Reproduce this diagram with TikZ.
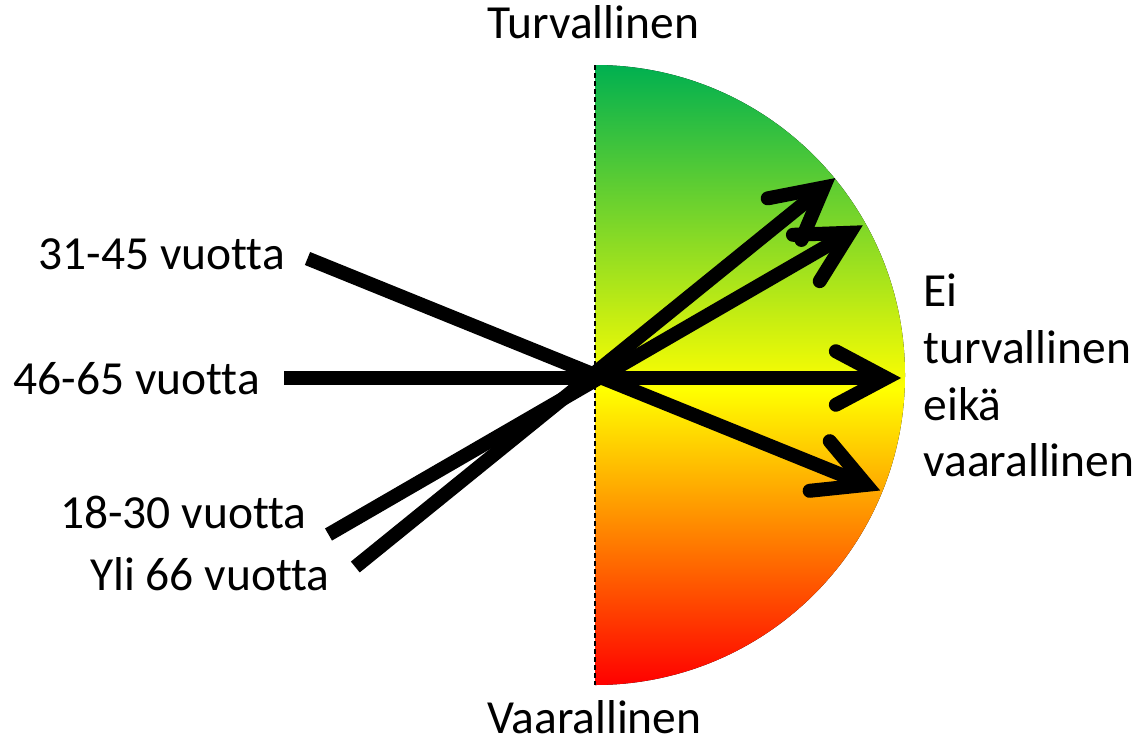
\documentclass[tikz,border=0pt]{standalone}
\usepackage{fontspec}
\setmainfont{Carlito}[Ligatures=NoCommon]
\usetikzlibrary{calc}
\definecolor{mygreen}{RGB}{0,176,80}
\definecolor{myyellow}{RGB}{255,255,0}
\definecolor{myred}{RGB}{255,0,0}
\pgfdeclareverticalshading{gyr}{100bp}{color(0bp)=(myred); color(25bp)=(myred); color(48.8bp)=(myyellow); color(75bp)=(mygreen); color(100bp)=(mygreen)}
\tikzset{
  lbl/.style={inner sep=0pt, anchor=base west, font=\fontsize{47.5}{56.7}\selectfont},
  shaft/.style={line width=14pt, line cap=butt},
  barbs/.style={line width=14pt, line cap=round, line join=miter},
  axisline/.style={line width=1.3pt, dash pattern=on 5pt off 3pt},
}
\begin{document}
\begin{tikzpicture}[x=1pt,y=-1pt]
\useasboundingbox (0,0) rectangle (1137,744);
% half disc
\fill[shading=gyr] (595,65) arc[start angle=-90, end angle=90, radius=310] -- cycle;
\coordinate (top) at (595,65);
\coordinate (bot) at (595,685);
\draw[axisline] (top) -- (bot);
% labels
\node[lbl] (safe) at (487,38.3) {Turvallinen};
\node[lbl] (danger) at (487,733.3) {Vaarallinen};
\node[lbl] (a3145) at (38.3,269.3) {31-45 vuotta};
\node[lbl] (a4665) at (13.3,394) {46-65 vuotta};
\node[lbl] (a1830) at (60,528.3) {18-30 vuotta};
\node[lbl] (a66) at (90,590) {Yli 66 vuotta};
\node[lbl, align=left] (neutral) at (923.3,476.7) {Ei\\turvallinen\\eikä\\vaarallinen};
% arrows
\coordinate (s1) at (307.5,258.5); \coordinate (t1) at (880.7,490.7);
\coordinate (s2) at (284,378);     \coordinate (t2) at (901.7,378);
\coordinate (s3) at (328.5,534.5); \coordinate (t3) at (863.3,225);
\coordinate (s4) at (355.3,567);   \coordinate (t4) at (835.7,177.7);
\foreach \i in {1,2,3,4}{
  \path ($(t\i)!15.5pt!(s\i)$) coordinate (g\i);
  \path ($(g\i)!57pt!28:(s\i)$) coordinate (ba\i);
  \path ($(g\i)!57pt!-28:(s\i)$) coordinate (bb\i);
  \draw[shaft] (s\i) -- (g\i);
  \draw[barbs] (ba\i) -- (g\i) -- (bb\i);
}
\end{tikzpicture}
\end{document}
